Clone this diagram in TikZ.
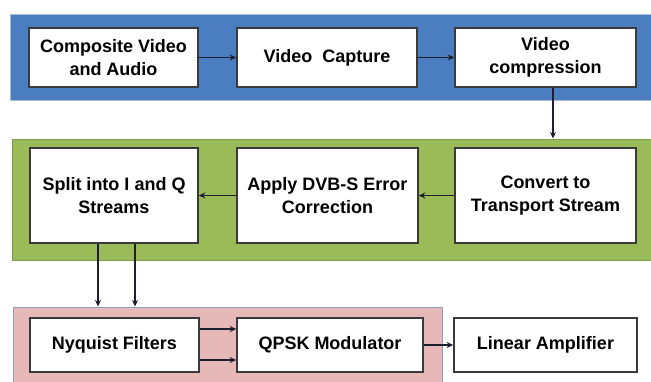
\documentclass[tikz,border=0pt]{standalone}
\usepackage{fontspec}
\setmainfont{Liberation Sans}
\usetikzlibrary{arrows.meta}
\definecolor{bandblue}{HTML}{4A7EC0}
\definecolor{bandblueline}{HTML}{A9BCD6}
\definecolor{bandgreen}{HTML}{9BBB59}
\definecolor{bandgreenline}{HTML}{7E9A4C}
\definecolor{bandpink}{HTML}{E6B9B8}
\definecolor{bandpinkline}{HTML}{8C9BB8}
\definecolor{boxline}{HTML}{3A3A3A}
\definecolor{arrowline}{HTML}{1E1F2E}

\begin{document}
\begin{tikzpicture}[x=1pt,y=-1pt,
  box/.style={draw=boxline,fill=white,line width=1.6pt,align=center,inner sep=0pt,
    font=\bfseries\fontsize{18}{23}\selectfont},
  band/.style={line width=1pt,inner sep=0pt},
  conn/.style={-{Stealth[length=6.5pt,width=6pt]},line width=1.5pt,draw=arrowline}]
\useasboundingbox (0,0) rectangle (651,381);

% coloured bands
\node[band,fill=bandblue,draw=bandblueline,minimum width=643,minimum height=86] (blueband) at (331.5,57) {};
\node[band,fill=bandgreen,draw=bandgreenline,minimum width=641,minimum height=121] (greenband) at (332.5,199.5) {};
\node[band,fill=bandpink,draw=bandpinkline,minimum width=429,minimum height=78] (pinkband) at (227.5,346) {};

% top row
\node[box,minimum width=169,minimum height=59] (composite) at (113.5,57.5) {Composite Video\\and Audio};
\node[box,minimum width=180,minimum height=59] (capture) at (327,57.5) {Video~ Capture};
\node[box,minimum width=181,minimum height=59] (compress) at (545.5,57.5) {Video\\compression};

% middle row
\node[box,minimum width=168,minimum height=95] (split) at (114,195.5) {Split into I and Q\\Streams};
\node[box,minimum width=181,minimum height=95] (dvbs) at (327.5,195.5) {Apply DVB-S Error\\Correction};
\node[box,minimum width=181,minimum height=95] (transport) at (545.5,195.5) {Convert to\\Transport Stream};

% bottom row
\node[box,minimum width=169,minimum height=54] (nyquist) at (114.5,345) {Nyquist Filters};
\node[box,minimum width=186,minimum height=54] (qpsk) at (330,345) {QPSK Modulator};
\node[box,minimum width=183,minimum height=54] (amp) at (545.5,345) {Linear Amplifier};

% free ends
\coordinate (down0) at ([xshift=7.5pt]compress.south);
\coordinate (down1) at (down0 |- greenband.north);
\coordinate (ipath0) at ([xshift=-16pt]split.south);
\coordinate (ipath1) at (ipath0 |- pinkband.north);
\coordinate (qpath0) at ([xshift=21pt]split.south);
\coordinate (qpath1) at (qpath0 |- pinkband.north);
\coordinate (iout0) at ([yshift=16pt]nyquist.east);
\coordinate (iout1) at (iout0 -| qpsk.west);
\coordinate (qout0) at ([yshift=-15pt]nyquist.east);
\coordinate (qout1) at (qout0 -| qpsk.west);

\path[conn]
(composite) edge (capture)
(capture) edge (compress)
(transport) edge (dvbs)
(dvbs) edge (split)
(qpsk) edge (amp);

% between the bands
\draw[conn] (down0) -- (down1);
\draw[conn] (ipath0) -- (ipath1);
\draw[conn] (qpath0) -- (qpath1);
\draw[conn] (iout0) -- (iout1);
\draw[conn] (qout0) -- (qout1);

\end{tikzpicture}
\end{document}
